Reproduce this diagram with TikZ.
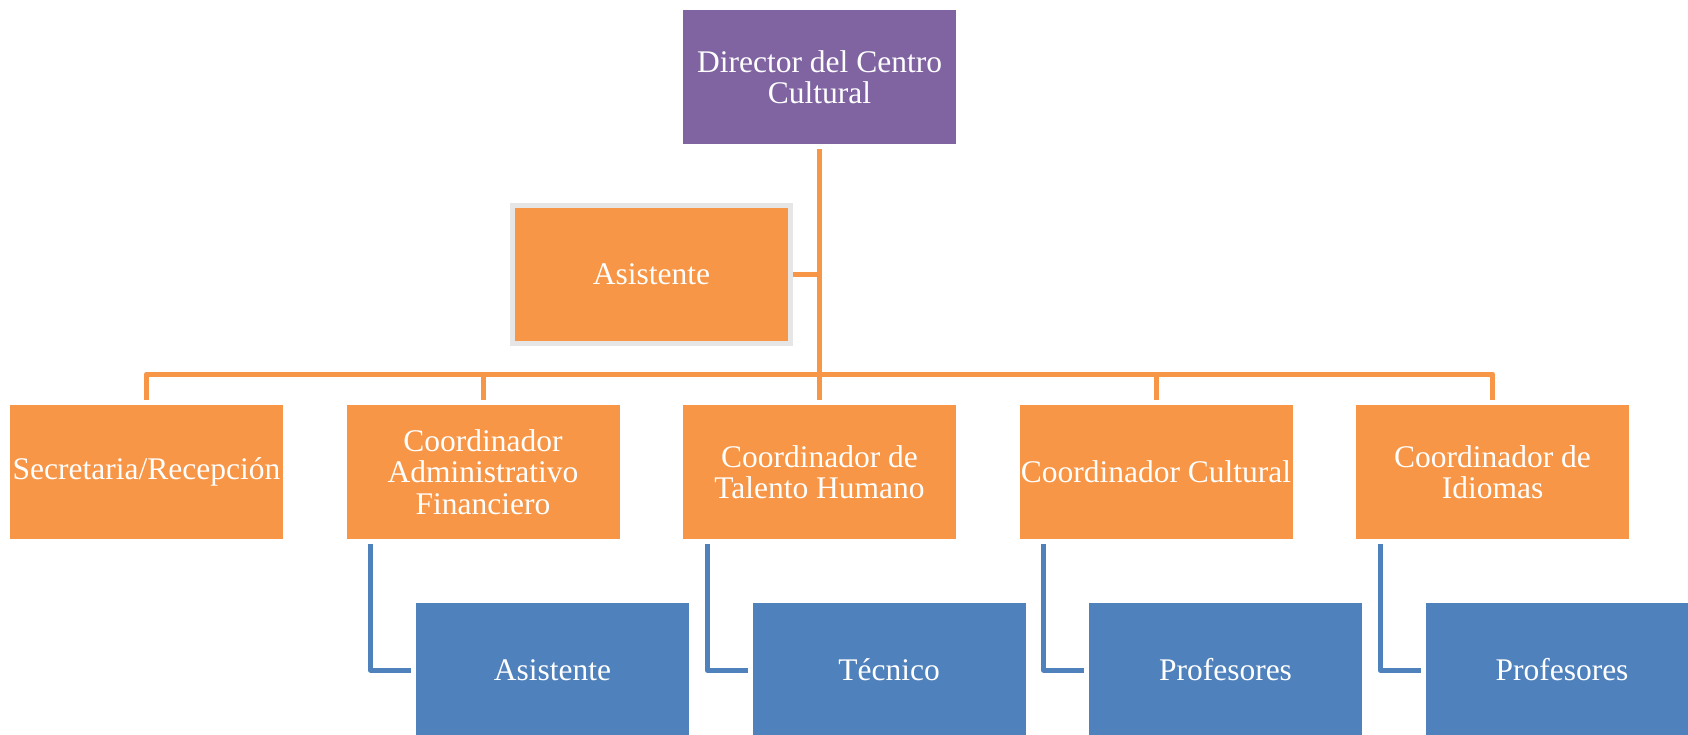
\documentclass[tikz,border=0pt]{standalone}
\usepackage{fontspec}
\setmainfont{Liberation Serif}
\usetikzlibrary{positioning}
\definecolor{dirpurple}{HTML}{8064A2}
\definecolor{orgorange}{HTML}{F79646}
\definecolor{subblue}{HTML}{4F81BD}
\definecolor{framegray}{HTML}{E6E6E6}

\begin{document}
\begin{tikzpicture}[x=1pt,y={(0,-1pt)},
	box/.style={minimum width=273pt,minimum height=134pt,inner sep=0pt,outer sep=5pt,
		align=center,text=white,font=\fontsize{31.5}{31.5}\selectfont},
	dirbox/.style={box,fill=dirpurple},
	orgbox/.style={box,fill=orgorange},
	subbox/.style={box,fill=subblue},
	orgline/.style={draw=orgorange,line width=5pt,line join=round},
	subline/.style={draw=subblue,line width=5pt,line join=round}]
		\path[use as bounding box,clip] (0,0) rectangle (1688,734);
		% top
		\node[dirbox] (dir) at (819.5,77) {Director del Centro\\Cultural};
		\node[orgbox,minimum width=278pt,minimum height=138pt,outer sep=2.5pt,
			draw=framegray,line width=5pt] (asis) at (651.5,274.5) {Asistente};
		% coordinators
		\foreach \i/\txt in {1/Secretaria{/}Recepción,2/Coordinador\\Administrativo\\Financiero,
			3/Coordinador de\\Talento Humano,4/Coordinador Cultural,5/Coordinador de\\Idiomas}
			{
			\node[orgbox] (c\i) at ({146.5+336.5*(\i-1)},472) {\txt};
			}
		% staff under coordinators
		\foreach \i/\txt in {2/Asistente,3/Técnico,4/Profesores,5/Profesores}
			{
			\node[subbox] (b\i) at ({216+336.5*(\i-1)},670) {\txt};
			\draw[subline] ([xshift=29pt]c\i.south west) |- (b\i.west);
			}
		\coordinate (bar) at (0,374);
		\draw[orgline] (dir.south) -- (c3.north);
		\draw[orgline] (asis.east) -- (asis.east -| dir.south);
		\draw[orgline] (c1.north) -- (c1.north |- bar) -- (c5.north |- bar) -- (c5.north);
		\foreach \i in {2,4}
			\draw[orgline] (c\i.north) -- (c\i.north |- bar);
	\end{tikzpicture}
\end{document}
